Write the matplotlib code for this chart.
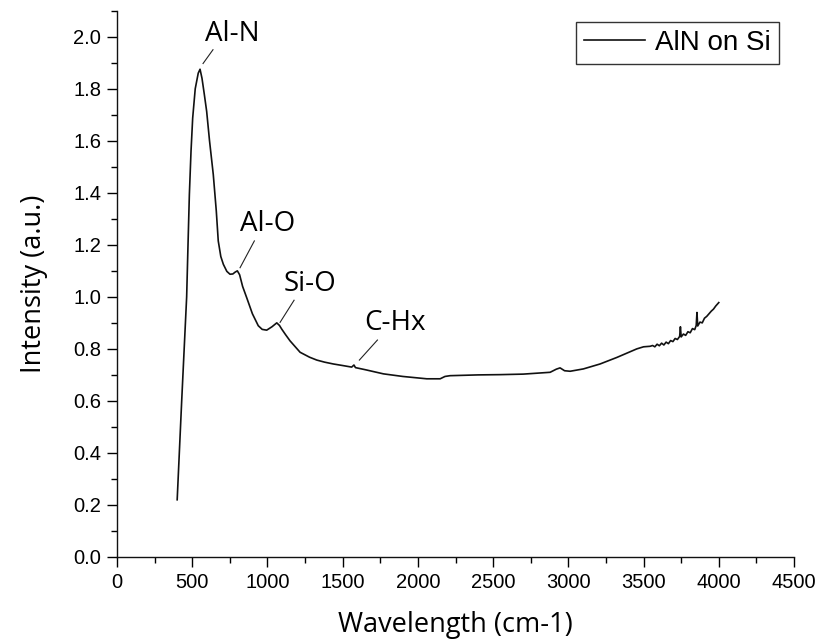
import matplotlib
matplotlib.use("Agg")
import matplotlib.pyplot as plt
from matplotlib.ticker import MultipleLocator

wavenumber = [400, 430, 463, 472, 481, 492, 503, 520, 540, 552, 565, 580, 596, 615, 640, 660,
              673, 690, 707, 730, 751, 770, 785, 800, 815, 835, 862, 900, 939, 965, 995, 1030,
              1062, 1080, 1095, 1120, 1150, 1217, 1280, 1328, 1380, 1438, 1500, 1560, 1575,
              1585, 1650, 1771, 1900, 2059, 2148, 2180, 2214, 2400, 2547, 2700, 2879, 2920,
              2945, 2975, 3012, 3100, 3211, 3322, 3455, 3500, 3544, 3560, 3575, 3590, 3605,
              3620, 3635, 3650, 3665, 3680, 3695, 3710, 3725, 3740, 3745, 3750, 3765, 3780,
              3795, 3810, 3825, 3840, 3850, 3855, 3860, 3875, 3890, 3905, 3920, 3935, 3950,
              3965, 3980, 4000]
intensity = [0.22, 0.60, 1.00, 1.20, 1.393, 1.56, 1.687, 1.80, 1.86, 1.875, 1.84, 1.78, 1.713,
             1.60, 1.47, 1.33, 1.215, 1.155, 1.125, 1.098, 1.087, 1.088, 1.095, 1.100, 1.085,
             1.04, 0.997, 0.935, 0.889, 0.875, 0.872, 0.885, 0.900, 0.890, 0.876, 0.855, 0.831,
             0.787, 0.768, 0.757, 0.749, 0.742, 0.736, 0.730, 0.738, 0.728, 0.720, 0.704, 0.694,
             0.685, 0.685, 0.694, 0.697, 0.700, 0.701, 0.703, 0.710, 0.722, 0.727, 0.716, 0.714,
             0.723, 0.742, 0.767, 0.800, 0.808, 0.810, 0.813, 0.808, 0.818, 0.812, 0.822, 0.815,
             0.826, 0.820, 0.832, 0.828, 0.840, 0.836, 0.848, 0.885, 0.846, 0.857, 0.852, 0.866,
             0.862, 0.878, 0.874, 0.890, 0.940, 0.888, 0.903, 0.900, 0.918, 0.925, 0.935, 0.945,
             0.953, 0.965, 0.978]

peak_labels = ["Al-N", "Al-O", "Si-O", "C-Hx"]
label_xy = [(765, 2.011), (1004, 1.280), (1283, 1.050), (1848, 0.900)]
leader_start = [(572, 1.897), (818, 1.112), (1084, 0.902), (1611, 0.757)]
leader_end = [(638, 1.950), (913, 1.215), (1177, 0.987), (1731, 0.834)]

series_name = "AlN on Si"

fig = plt.figure(figsize=(8.2, 6.41), dpi=100)
ax = fig.add_axes([117/820, 1-557/641, (794-117)/820, (557-10.7)/641])

ax.plot(wavenumber, intensity, color="#111111", lw=1.2, label=series_name)

for lab, (tx, ty), (x0, y0), (x1, y1) in zip(peak_labels, label_xy, leader_start, leader_end):
    ax.plot([x0, x1], [y0, y1], color="#222222", lw=0.8)
    ax.text(tx, ty, lab, ha="center", va="center", fontsize=20, family="Open Sans")

ax.set_xlim(0, 4500)
ax.set_ylim(0, 2.1)
ax.xaxis.set_major_locator(MultipleLocator(500))
ax.xaxis.set_minor_locator(MultipleLocator(250))
ax.yaxis.set_major_locator(MultipleLocator(0.2))
ax.yaxis.set_minor_locator(MultipleLocator(0.1))
ax.yaxis.set_major_formatter(matplotlib.ticker.FormatStrFormatter("%.1f"))
for s in ["top", "right"]:
    ax.spines[s].set_visible(False)
for s in ["left", "bottom"]:
    ax.spines[s].set_linewidth(1.0)
    ax.spines[s].set_color("#111111")
ax.tick_params(which="major", direction="out", length=7.5, width=1.0, labelsize=14.5, pad=4)
ax.tick_params(which="minor", direction="out", length=4, width=1.0)
for t in ax.get_xticklabels() + ax.get_yticklabels():
    t.set_family("Liberation Sans")

ax.set_xlabel("Wavelength (cm-1)", fontsize=19.5, family="Open Sans", labelpad=14)
ax.set_ylabel("Intensity (a.u.)", fontsize=19.5, family="Open Sans", labelpad=18)

leg = ax.legend(loc="upper right", bbox_to_anchor=(779/820, 1-21.7/641), bbox_transform=fig.transFigure,
                fancybox=False, edgecolor="#333333", framealpha=1, handlelength=2.2,
                prop={"family": "Liberation Sans", "size": 20}, borderpad=0.3, handletextpad=0.35,
                borderaxespad=0)
leg.get_frame().set_linewidth(1.0)

fig.savefig("out.png", dpi=100)
